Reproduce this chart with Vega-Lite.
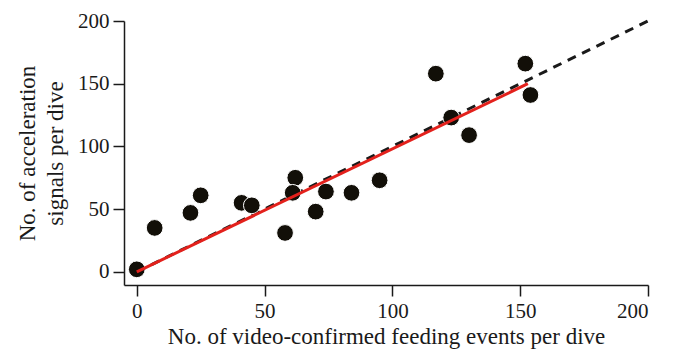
{
  "$schema": "https://vega.github.io/schema/vega-lite/v6.json",
  "width": 524,
  "height": 264,
  "autosize": {"type": "none"},
  "padding": {"left": 124, "top": 21, "right": 31, "bottom": 65},
  "background": "white",
  "config": {
    "view": {"stroke": null},
    "font": "Liberation Serif",
    "axis": {
      "grid": false,
      "domainColor": "#1a1a1a",
      "domainWidth": 1.5,
      "tickColor": "#1a1a1a",
      "tickWidth": 1.5,
      "tickSize": 11,
      "labelFont": "Liberation Serif",
      "labelFontSize": 21,
      "labelColor": "#1a1a1a",
      "titleFont": "Liberation Serif",
      "titleFontSize": 23,
      "titleFontWeight": "normal",
      "titleColor": "#1a1a1a"
    }
  },
  "datasets": {
    "pts": [
      {"video": 0, "accel": 2},
      {"video": 7, "accel": 35},
      {"video": 21, "accel": 47},
      {"video": 25, "accel": 61},
      {"video": 41, "accel": 55},
      {"video": 45, "accel": 53},
      {"video": 58, "accel": 31},
      {"video": 62, "accel": 75},
      {"video": 61, "accel": 63},
      {"video": 70, "accel": 48},
      {"video": 74, "accel": 64},
      {"video": 84, "accel": 63},
      {"video": 95, "accel": 73},
      {"video": 117, "accel": 158},
      {"video": 123, "accel": 123},
      {"video": 130, "accel": 109},
      {"video": 152, "accel": 166},
      {"video": 154, "accel": 141}
    ],
    "identity": [
      {"video": 0, "accel": 0},
      {"video": 200, "accel": 200}
    ],
    "fit": [
      {"video": 0, "accel": 0},
      {"video": 153, "accel": 150}
    ]
  },
  "layer": [
    {
      "data": {"name": "identity"},
      "mark": {"type": "line", "color": "#1a1a1a", "strokeWidth": 3, "strokeDash": [9, 7]},
      "encoding": {
        "x": {
          "field": "video", "type": "quantitative",
          "scale": {"domain": [-5, 200], "nice": false, "zero": false},
          "axis": {"values": [0, 50, 100, 150, 200], "labelPadding": 4, "title": "No. of video-confirmed feeding events per dive", "titlePadding": 4}
        },
        "y": {
          "field": "accel", "type": "quantitative",
          "scale": {"domain": [-10.5, 200], "nice": false, "zero": false},
          "axis": {"values": [0, 50, 100, 150, 200], "labelPadding": 4, "title": ["No. of acceleration", "signals per dive"], "titlePadding": 10, "titleLineHeight": 28}
        }
      }
    },
    {
      "data": {"name": "pts"},
      "mark": {"type": "circle", "size": 280, "color": "#120f08", "opacity": 1, "stroke": "white", "strokeWidth": 1},
      "encoding": {
        "x": {"field": "video", "type": "quantitative"},
        "y": {"field": "accel", "type": "quantitative"}
      }
    },
    {
      "data": {"name": "fit"},
      "mark": {"type": "line", "color": "#e3211c", "strokeWidth": 3},
      "encoding": {
        "x": {"field": "video", "type": "quantitative"},
        "y": {"field": "accel", "type": "quantitative"}
      }
    }
  ]
}
